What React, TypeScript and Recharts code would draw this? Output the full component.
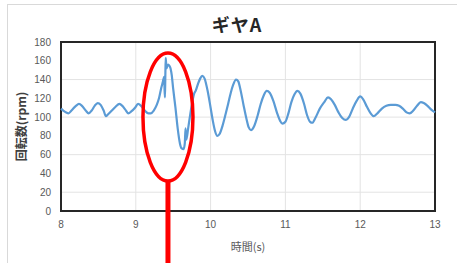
import { LineChart, Line, XAxis, YAxis, CartesianGrid, ReferenceArea, ReferenceDot } from 'recharts';

// 時間(s)
const times = [
  8.0, 8.03, 8.07, 8.1, 8.14, 8.2, 8.24, 8.28, 8.33, 8.37, 8.41, 8.45, 8.49, 8.53, 8.57, 8.6, 8.63,
  8.68, 8.73, 8.78, 8.82, 8.86, 8.9, 8.94, 8.99, 9.03, 9.07, 9.12, 9.17, 9.2, 9.24, 9.28, 9.31, 9.34,
  9.36, 9.38, 9.385, 9.39, 9.395, 9.4, 9.41, 9.43, 9.46, 9.48, 9.5, 9.53, 9.56, 9.59, 9.61, 9.64,
  9.655, 9.665, 9.675, 9.7, 9.73, 9.76, 9.78, 9.8, 9.83, 9.86, 9.89, 9.92, 9.96, 10.0, 10.03, 10.06,
  10.09, 10.12, 10.16, 10.2, 10.24, 10.27, 10.3, 10.34, 10.37, 10.4, 10.44, 10.48, 10.51, 10.54,
  10.58, 10.63, 10.67, 10.71, 10.75, 10.79, 10.84, 10.89, 10.93, 10.96, 11.0, 11.04, 11.08, 11.12,
  11.16, 11.2, 11.25, 11.29, 11.33, 11.36, 11.4, 11.46, 11.52, 11.57, 11.61, 11.66, 11.71, 11.76,
  11.81, 11.85, 11.9, 11.95, 12.0, 12.04, 12.09, 12.14, 12.18, 12.23, 12.29, 12.35, 12.41, 12.47,
  12.52, 12.57, 12.62, 12.66, 12.71, 12.76, 12.81, 12.85, 12.9, 12.95, 13.0,
];

// 回転数(rpm)
const rpm = [
  109, 107, 105, 104, 107, 112, 114, 112, 107, 104, 107, 112, 115, 113, 107, 101, 103,
  107, 111, 114, 112, 108, 104, 106, 110, 114, 112, 107, 104, 104, 107, 113, 120, 131,
  137, 143, 128, 121, 145, 163, 152, 156, 153, 145, 130, 110, 88, 72, 67, 66,
  72, 88, 76, 88, 104, 118, 125, 128, 135, 141, 144, 141, 128, 110, 96, 85,
  80, 82, 91, 103, 116, 126, 134, 140, 138, 129, 113, 98, 89, 86,
  90, 102, 114, 123, 128, 126, 117, 104, 96, 93, 95, 104, 116, 124,
  128, 125, 114, 102, 95, 94, 99, 109, 116, 121, 119, 113, 105, 99,
  97, 100, 109, 117, 122, 119, 111, 104, 101, 104, 109, 112, 113, 113,
  112, 109, 105, 104, 107, 112, 116, 115, 112, 108, 105,
];

const xTicks = [8, 9, 10, 11, 12, 13];
const yTicks = [0, 20, 40, 60, 80, 100, 120, 140, 160, 180];

const data = times.map((t, i) => ({ t, rpm: rpm[i] }));

const tickStyle = { fontSize: 10, fill: '#595959', fontFamily: 'Liberation Sans, sans-serif' };

// 注目箇所の赤い楕円と指示線
const Callout = (props: any) => {
  const { cx, cy } = props;
  if (cx == null || cy == null) return null;
  return (
    <g>
      <ellipse cx={cx} cy={cy} rx={25} ry={64} fill="none" stroke="#ff0000" strokeWidth={3.5} />
      <line x1={cx} y1={cy + 64} x2={cx} y2={cy + 160} stroke="#ff0000" strokeWidth={5} />
    </g>
  );
};

const App = () => {
  return (
    <div style={{ position: 'fixed', left: 0, top: 0, width: 457, height: 263, background: '#fff', overflow: 'hidden' }}>
      <div
        style={{
          position: 'absolute', left: 7, top: 4, width: 470, height: 300,
          border: '1px solid #d9d9d9', boxSizing: 'border-box',
        }}
      />
      <div
        style={{
          position: 'absolute', left: 0, top: 12, width: 474, textAlign: 'center',
          fontFamily: 'Noto Sans CJK JP, sans-serif', fontWeight: 700, fontSize: 18,
          letterSpacing: 1, color: '#262626', lineHeight: '24px',
        }}
      >
        ギヤA
      </div>
      <div style={{ position: 'absolute', left: 0, top: 0 }}>
        <LineChart width={457} height={263} data={data} margin={{ top: 42, right: 22, bottom: 0, left: 0 }}>
          <CartesianGrid stroke="#e3e3e3" strokeWidth={1} />
          <XAxis
            dataKey="t"
            type="number"
            domain={[8, 13]}
            ticks={xTicks}
            axisLine={false}
            tickLine={false}
            tickSize={0}
            tickMargin={10}
            height={52}
            tick={tickStyle}
            label={{
              value: '時間(s)', position: 'insideBottom', offset: 12,
              style: { fontSize: 11, fill: '#595959', fontFamily: 'Noto Sans CJK JP, sans-serif' },
            }}
          />
          <YAxis
            type="number"
            domain={[0, 180]}
            ticks={yTicks}
            axisLine={false}
            tickLine={false}
            tickSize={0}
            tickMargin={10}
            width={61}
            tick={tickStyle}
            label={{
              value: '回転数(rpm)', angle: -90, position: 'insideLeft', offset: 22,
              style: { textAnchor: 'middle', fontSize: 12, fontWeight: 700, fill: '#404040', fontFamily: 'Noto Sans CJK JP, sans-serif' },
            }}
          />
          <ReferenceArea x1={8} x2={13} y1={0} y2={180} fill="none" stroke="#262626" strokeWidth={2} />
          <Line
            type="monotone"
            dataKey="rpm"
            stroke="#5b9bd5"
            strokeWidth={2.2}
            dot={false}
            isAnimationActive={false}
          />
          <ReferenceDot x={9.43} y={100} r={0} shape={<Callout />} ifOverflow="visible" />
        </LineChart>
      </div>
    </div>
  );
};

export default App;
